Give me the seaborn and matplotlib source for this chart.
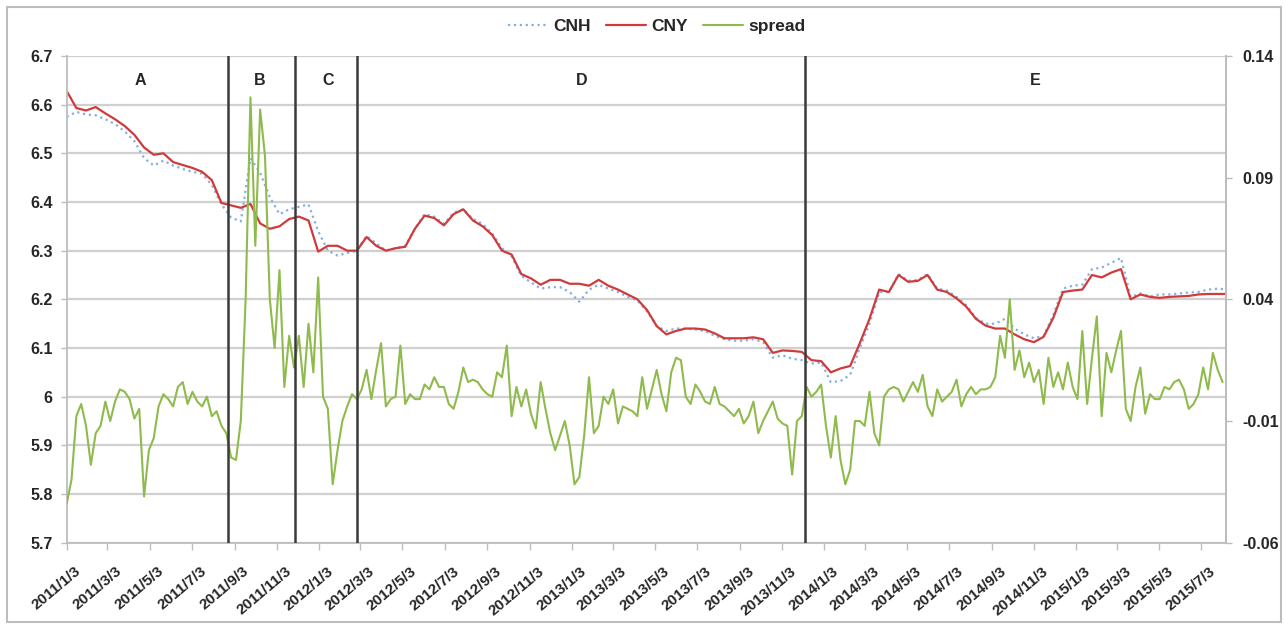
import numpy as np
import pandas as pd
import matplotlib
matplotlib.use("Agg")
import matplotlib.pyplot as plt
import matplotlib.dates as mdates
from matplotlib.ticker import FuncFormatter
from matplotlib.patches import Rectangle
from matplotlib.transforms import ScaledTranslation
import seaborn as sns

# fortnightly CNY / CNH quotes, from 2011-01-03
cny = [6.628, 6.593, 6.588, 6.595, 6.582, 6.570, 6.556, 6.538, 6.512, 6.497,
       6.500, 6.482, 6.476, 6.470, 6.462, 6.445, 6.398, 6.393, 6.388, 6.396,
       6.356, 6.345, 6.350, 6.365, 6.370, 6.362, 6.298, 6.310, 6.310, 6.300,
       6.300, 6.328, 6.310, 6.300, 6.305, 6.308, 6.345, 6.372, 6.367, 6.352,
       6.375, 6.385, 6.362, 6.350, 6.332, 6.300, 6.292, 6.252, 6.243, 6.230,
       6.240, 6.240, 6.232, 6.232, 6.228, 6.240, 6.228, 6.220, 6.210, 6.200,
       6.178, 6.145, 6.128, 6.135, 6.140, 6.140, 6.138, 6.130, 6.120, 6.120,
       6.120, 6.122, 6.118, 6.090, 6.095, 6.094, 6.092, 6.075, 6.073, 6.050,
       6.058, 6.063, 6.110, 6.160, 6.220, 6.215, 6.250, 6.236, 6.238, 6.250,
       6.220, 6.215, 6.202, 6.185, 6.160, 6.146, 6.140, 6.140, 6.128, 6.118,
       6.112, 6.123, 6.162, 6.215, 6.218, 6.220, 6.250, 6.245, 6.255, 6.262,
       6.200, 6.210, 6.205, 6.203, 6.205, 6.206, 6.207, 6.210, 6.211, 6.211,
       6.211]
cnh = [6.575, 6.585, 6.580, 6.578, 6.570, 6.560, 6.545, 6.525, 6.490, 6.475,
       6.485, 6.475, 6.468, 6.462, 6.458, 6.435, 6.395, 6.368, 6.360, 6.490,
       6.460, 6.410, 6.375, 6.385, 6.390, 6.395, 6.340, 6.300, 6.290, 6.295,
       6.300, 6.330, 6.315, 6.300, 6.305, 6.310, 6.345, 6.375, 6.370, 6.355,
       6.378, 6.385, 6.365, 6.355, 6.335, 6.305, 6.288, 6.248, 6.235, 6.222,
       6.225, 6.225, 6.215, 6.195, 6.220, 6.230, 6.222, 6.215, 6.205, 6.198,
       6.175, 6.145, 6.135, 6.140, 6.140, 6.138, 6.135, 6.125, 6.118, 6.115,
       6.115, 6.118, 6.112, 6.080, 6.085, 6.078, 6.075, 6.068, 6.070, 6.030,
       6.032, 6.045, 6.100, 6.150, 6.215, 6.215, 6.252, 6.238, 6.240, 6.252,
       6.222, 6.218, 6.205, 6.188, 6.162, 6.150, 6.150, 6.160, 6.140, 6.128,
       6.120, 6.125, 6.168, 6.222, 6.228, 6.230, 6.262, 6.265, 6.275, 6.285,
       6.205, 6.212, 6.206, 6.210, 6.210, 6.212, 6.214, 6.215, 6.220, 6.222,
       6.220]

# weekly CNH-CNY spread, from 2011-01-03
spread = [-0.044, -0.034, -0.008, -0.003, -0.012, -0.028, -0.015, -0.012, -0.002, -0.010,
          -0.002, 0.003, 0.002, -0.001, -0.009, -0.005, -0.041, -0.022, -0.017, -0.004,
          0.001, -0.001, -0.004, 0.004, 0.006, -0.003, 0.002, -0.002, -0.004, 0.000,
          -0.008, -0.006, -0.012, -0.015, -0.025, -0.026, -0.010, 0.040, 0.123, 0.062,
          0.118, 0.099, 0.040, 0.020, 0.052, 0.004, 0.025, 0.012, 0.025, 0.004,
          0.030, 0.010, 0.049, 0.000, -0.005, -0.036, -0.022, -0.010, -0.004, 0.001,
          -0.001, 0.003, 0.011, -0.001, 0.011, 0.022, -0.004, -0.001, 0.000, 0.021,
          -0.003, 0.001, -0.001, -0.001, 0.005, 0.003, 0.008, 0.004, 0.004, -0.003,
          -0.005, 0.002, 0.012, 0.006, 0.007, 0.006, 0.003, 0.001, 0.000, 0.010,
          0.008, 0.021, -0.008, 0.004, -0.004, 0.003, -0.007, -0.013, 0.006, -0.005,
          -0.015, -0.022, -0.016, -0.010, -0.020, -0.036, -0.033, -0.016, 0.008, -0.015,
          -0.012, 0.000, -0.003, 0.003, -0.011, -0.004, -0.005, -0.006, -0.008, 0.008,
          -0.005, 0.003, 0.011, 0.001, -0.006, 0.010, 0.016, 0.015, 0.000, -0.003,
          0.005, 0.002, -0.002, -0.003, 0.004, -0.003, -0.004, -0.006, -0.008, -0.005,
          -0.011, -0.008, -0.002, -0.015, -0.010, -0.006, -0.002, -0.009, -0.011, -0.012,
          -0.032, -0.010, -0.008, 0.004, 0.000, 0.002, 0.005, -0.012, -0.025, -0.008,
          -0.026, -0.036, -0.030, -0.010, -0.010, -0.012, 0.002, -0.015, -0.020, 0.000,
          0.003, 0.004, 0.003, -0.002, 0.002, 0.006, 0.002, 0.009, -0.004, -0.008,
          0.003, -0.002, 0.000, 0.002, 0.007, -0.004, 0.001, 0.004, 0.001, 0.003,
          0.003, 0.004, 0.008, 0.025, 0.016, 0.040, 0.011, 0.019, 0.008, 0.014,
          0.006, 0.011, -0.003, 0.016, 0.004, 0.010, 0.003, 0.014, 0.004, -0.001,
          0.027, -0.003, 0.016, 0.033, -0.008, 0.018, 0.010, 0.019, 0.027, -0.005,
          -0.010, 0.004, 0.012, -0.007, 0.001, -0.001, -0.001, 0.004, 0.003, 0.006,
          0.007, 0.003, -0.005, -0.003, 0.001, 0.012, 0.003, 0.018, 0.011, 0.006]

regime_breaks = ["2011-08-25", "2011-11-29", "2012-02-27", "2013-12-07"]
regime_labels = ["A", "B", "C", "D", "E"]
regime_label_dates = ["2011-04-19", "2011-10-10", "2012-01-16", "2013-01-17", "2014-11-05"]

prices = pd.DataFrame({
    "date": pd.date_range("2011-01-03", periods=len(cny), freq="14D"),
    "CNH": cnh,
    "CNY": cny,
})
spreads = pd.DataFrame({
    "date": pd.date_range("2011-01-03", periods=len(spread), freq="7D"),
    "spread": spread,
})

sns.set_style("white")
plt.rcParams["font.family"] = ["Liberation Sans", "DejaVu Sans"]
plt.rcParams["font.weight"] = "bold"

fig = plt.figure(figsize=(12.85, 6.24), dpi=100)
ax = fig.add_axes([0.0519, 0.1303, 0.9022, 0.78])
ax2 = ax.twinx()

sns.lineplot(data=prices, x="date", y="CNH", ax=ax, color="#86afe0", lw=1.6,
             linestyle=":", label="CNH", legend=False)
sns.lineplot(data=prices, x="date", y="CNY", ax=ax, color="#d03a3a", lw=1.6,
             label="CNY", legend=False)
sns.lineplot(data=spreads, x="date", y="spread", ax=ax2, color="#8fba4c", lw=1.5,
             label="spread", legend=False)

ax.set_ylim(5.7, 6.7)
ax2.set_ylim(-0.06, 0.14)
ax.set_xlim(pd.Timestamp("2011-01-03"), pd.Timestamp("2015-08-08"))
ax.set_yticks(np.round(np.arange(5.7, 6.71, 0.1), 1))
ax2.set_yticks([-0.06, -0.01, 0.04, 0.09, 0.14])
ax.yaxis.set_major_formatter(FuncFormatter(lambda v, p: f"{v:g}"))
ax2.yaxis.set_major_formatter(FuncFormatter(lambda v, p: f"{v:g}"))


def fmt_date(v, p):
    d = mdates.num2date(v)
    return f"{d.year}/{d.month}/{d.day}"


ax.xaxis.set_major_locator(mdates.MonthLocator(bymonth=[1, 3, 5, 7, 9, 11], bymonthday=3))
ax.xaxis.set_major_formatter(FuncFormatter(fmt_date))

ax.yaxis.grid(True, color="#d0d0d0", lw=1.6)
ax.xaxis.grid(False)
ax.set_axisbelow(True)
ax.set_xlabel("")
ax.set_ylabel("")
ax2.set_ylabel("")

grey = "#bdbdbd"
for a in (ax, ax2):
    a.spines["top"].set_visible(False)
    for s in ("left", "bottom", "right"):
        a.spines[s].set_color(grey)
        a.spines[s].set_linewidth(1.3)
ax2.spines["left"].set_visible(False)
ax2.spines["bottom"].set_visible(False)

ax.tick_params(axis="y", length=4, width=1, color=grey, labelsize=11.5, pad=6, left=True)
ax2.tick_params(axis="y", length=4, width=1, color=grey, labelsize=11.5, pad=8, right=True)
ax.tick_params(axis="x", length=5, width=1, color=grey, labelsize=11, pad=4, bottom=True)

for d in regime_breaks:
    ax2.axvline(pd.Timestamp(d), color="#3a3a3a", lw=1.8, ymin=0.0, ymax=1.0, zorder=5)

for lab, d in zip(regime_labels, regime_label_dates):
    ax.text(pd.Timestamp(d), 6.65, lab, ha="center", va="center", fontsize=11.5, fontweight="bold")

h1, l1 = ax.get_legend_handles_labels()
h2, l2 = ax2.get_legend_handles_labels()
fig.legend(h1 + h2, l1 + l2, loc="center", bbox_to_anchor=(0.511, 0.957), ncol=3,
           frameon=False, fontsize=12.5, handlelength=2.3, handletextpad=0.3, columnspacing=0.9)

fig.patches.append(Rectangle((0.0054, 0.0037), 0.9914, 0.9856, transform=fig.transFigure,
                             fill=False, ec=grey, lw=1.5))

# rotated date labels, nudged right/down like the original
fig.canvas.draw()
shift = ScaledTranslation(8 / 100, -9 / 100, fig.dpi_scale_trans)
for lab in ax.get_xticklabels():
    lab.set_rotation(40)
    lab.set_ha("right")
    lab.set_rotation_mode("anchor")
    lab.set_transform(lab.get_transform() + shift)

fig.savefig("out.png", dpi=100)
